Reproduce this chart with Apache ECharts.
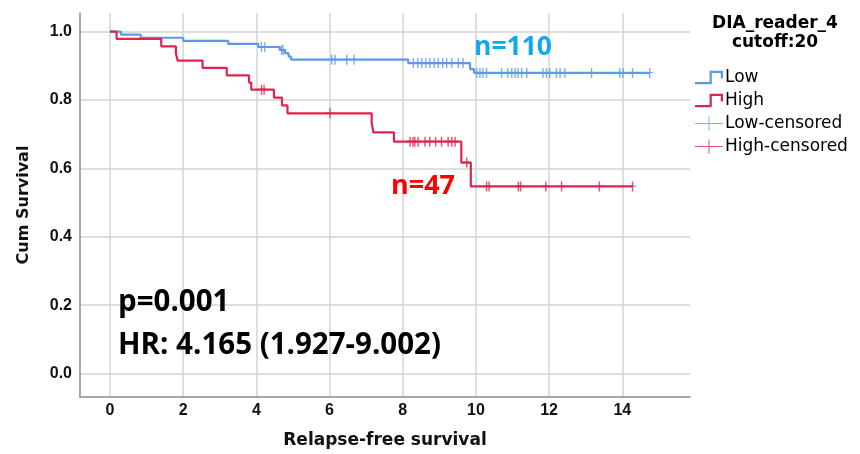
<!DOCTYPE html>
<html>
<head>
<meta charset="utf-8">
<script src="https://cdn.jsdelivr.net/npm/echarts@6/dist/echarts.min.js"></script>
<style>html,body{margin:0;padding:0;background:#fff;}#c{width:860px;height:454px;}</style>
</head>
<body>
<div id="c"></div>
<script>
// ---- data ----
const xTicks = [0, 2, 4, 6, 8, 10, 12, 14];
const yTicks = [0, 0.2, 0.4, 0.6, 0.8, 1.0];

// Low group (n=110): event times and survival after each event
const lowTimes = [0, 0.30, 0.84, 2.00, 3.23, 4.05, 4.64, 4.78, 4.88, 4.95, 8.15, 9.84, 9.95, 14.75];
const lowSurv  = [1.0, 0.991, 0.982, 0.973, 0.964, 0.955, 0.946, 0.937, 0.927, 0.918, 0.908, 0.890, 0.879, 0.879];
const lowCensored = [4.14, 4.23, 4.69, 4.73, 6.06, 6.15, 6.47, 6.67, 8.29, 8.41, 8.52, 8.63, 8.74, 8.86, 8.97,
  9.09, 9.20, 9.34, 9.52, 9.65, 10.02, 10.11, 10.19, 10.29, 10.70, 10.87, 10.98, 11.07, 11.15, 11.25, 11.39,
  11.83, 11.93, 12.02, 12.20, 12.30, 12.43, 13.16, 13.93, 14.02, 14.28, 14.75];

// High group (n=47)
const highTimes = [0, 0.18, 1.40, 1.80, 1.85, 2.53, 3.19, 3.80, 3.86, 4.48, 4.70, 4.85, 7.15, 7.20, 7.76, 9.60, 9.86, 14.28];
const highSurv  = [1.0, 0.979, 0.957, 0.936, 0.915, 0.894, 0.872, 0.851, 0.830, 0.807, 0.784, 0.761, 0.733, 0.705, 0.678, 0.617, 0.547, 0.547];
const highCensored = [4.14, 4.21, 6.01, 8.20, 8.28, 8.33, 8.42, 8.61, 8.74, 8.90, 9.06, 9.24, 9.34, 9.43, 9.75,
  10.29, 10.36, 11.16, 11.22, 11.91, 12.34, 13.37, 14.28];

const seriesNames = ['Low', 'High', 'Low-censored', 'High-censored'];
const legendTitle = ['DIA_reader_4', 'cutoff:20'];
const xTitle = 'Relapse-free survival';
const yTitle = 'Cum Survival';
const noteP = 'p=0.001';
const noteHR = 'HR: 4.165 (1.927-9.002)';
const nLow = 'n=110';
const nHigh = 'n=47';

// ---- styling ----
const blue = '#5a9ae8';
const red = '#de244f';
const stepIcon = 'path://M0,12H13V2H25V9H23V4H15V14H0Z';
const plusIcon = 'path://M0,6.5H13.5V0H14.5V6.5H28V7.5H14.5V14H13.5V7.5H0Z';
const censorSymbol = 'path://M3.6,0H5.4V4H9V5H5.4V10H3.6V5H0V4H3.6Z';

function survAt(times, surv, t) {
  let s = surv[0];
  for (let i = 0; i < times.length; i++) { if (times[i] <= t) s = surv[i]; }
  return s;
}
const lowLine = lowTimes.map((t, i) => [t, lowSurv[i]]);
const highLine = highTimes.map((t, i) => [t, highSurv[i]]);
const lowCens = lowCensored.map(t => [t, survAt(lowTimes, lowSurv, t)]);
const highCens = highCensored.map(t => [t, survAt(highTimes, highSurv, t)]);

const chart = echarts.init(document.getElementById('c'), null, {renderer: 'canvas'});
const tickFont = {fontFamily: '"Liberation Sans", Arial, sans-serif', fontWeight: 'bold', fontSize: 16, color: '#111'};
chart.setOption({
  animation: false,
  backgroundColor: '#fff',
  grid: {left: 80, right: 170, top: 13, bottom: 49, containLabel: false},
  xAxis: {
    type: 'value', min: -0.82, max: 15.85,
    name: xTitle, nameLocation: 'middle', nameGap: 35,
    nameTextStyle: {fontFamily: '"DejaVu Sans", sans-serif', fontWeight: 'bold', fontSize: 17, color: '#111'},
    axisLine: {show: true, onZero: false, lineStyle: {color: '#8c8c8c', width: 1.5}},
    axisTick: {show: false, customValues: xTicks},
    axisLabel: Object.assign({customValues: xTicks, margin: 6}, tickFont),
    splitLine: {show: true, lineStyle: {color: '#d3d3d3', width: 1.5}}
  },
  yAxis: {
    type: 'value', min: -0.0688, max: 1.0544,
    name: yTitle, nameLocation: 'middle', nameGap: 48, nameRotate: 90,
    nameTextStyle: {fontFamily: '"DejaVu Sans", sans-serif', fontWeight: 'bold', fontSize: 16, color: '#111'},
    axisLine: {show: true, onZero: false, lineStyle: {color: '#8c8c8c', width: 1.5}},
    axisTick: {show: false, customValues: yTicks},
    axisLabel: Object.assign({customValues: yTicks, margin: 8, formatter: v => v.toFixed(1)}, tickFont),
    splitLine: {show: true, lineStyle: {color: '#d3d3d3', width: 1.5}}
  },
  legend: {
    orient: 'vertical', left: 690, top: 64, itemGap: 6, itemWidth: 28, itemHeight: 14,
    selectedMode: false,
    textStyle: {fontFamily: '"DejaVu Sans", sans-serif', fontSize: 17, color: '#000', padding: [0, 0, 0, -3]},
    data: [
      {name: seriesNames[0], icon: stepIcon},
      {name: seriesNames[1], icon: stepIcon},
      {name: seriesNames[2], icon: plusIcon},
      {name: seriesNames[3], icon: plusIcon}
    ]
  },
  graphic: [
    {type: 'text', z: 100, x: 775, y: 24, style: {text: legendTitle[0], align: 'center', verticalAlign: 'middle', font: 'bold 17px "DejaVu Sans"', fill: '#000'}},
    {type: 'text', z: 100, x: 775, y: 43, style: {text: legendTitle[1], align: 'center', verticalAlign: 'middle', font: 'bold 17px "DejaVu Sans"', fill: '#000'}},
    {type: 'text', z: 100, x: 118, y: 303, style: {text: noteP, verticalAlign: 'middle', font: 'bold 29.5px "Open Sans"', fill: '#000'}},
    {type: 'text', z: 100, x: 118, y: 346, style: {text: noteHR, verticalAlign: 'middle', font: 'bold 29.5px "Open Sans"', fill: '#000'}},
    {type: 'text', z: 100, x: 474, y: 47, style: {text: nLow, verticalAlign: 'middle', font: 'bold 26.5px "Open Sans"', fill: '#12a8ee'}},
    {type: 'text', z: 100, x: 391, y: 186, style: {text: nHigh, verticalAlign: 'middle', font: 'bold 27px "Open Sans"', fill: '#ff0000'}}
  ],
  series: [
    {name: seriesNames[0], type: 'line', step: 'end', data: lowLine, showSymbol: false, symbol: 'none',
     color: blue, lineStyle: {color: blue, width: 2.2}, z: 3},
    {name: seriesNames[1], type: 'line', step: 'end', data: highLine, showSymbol: false, symbol: 'none',
     color: red, lineStyle: {color: red, width: 2.2}, z: 3},
    {name: seriesNames[2], type: 'scatter', data: lowCens, symbol: censorSymbol, symbolSize: [7, 10],
     color: blue, itemStyle: {color: blue}, z: 4},
    {name: seriesNames[3], type: 'scatter', data: highCens, symbol: censorSymbol, symbolSize: [7, 10],
     color: red, itemStyle: {color: red}, z: 4}
  ]
});
</script>
</body>
</html>
